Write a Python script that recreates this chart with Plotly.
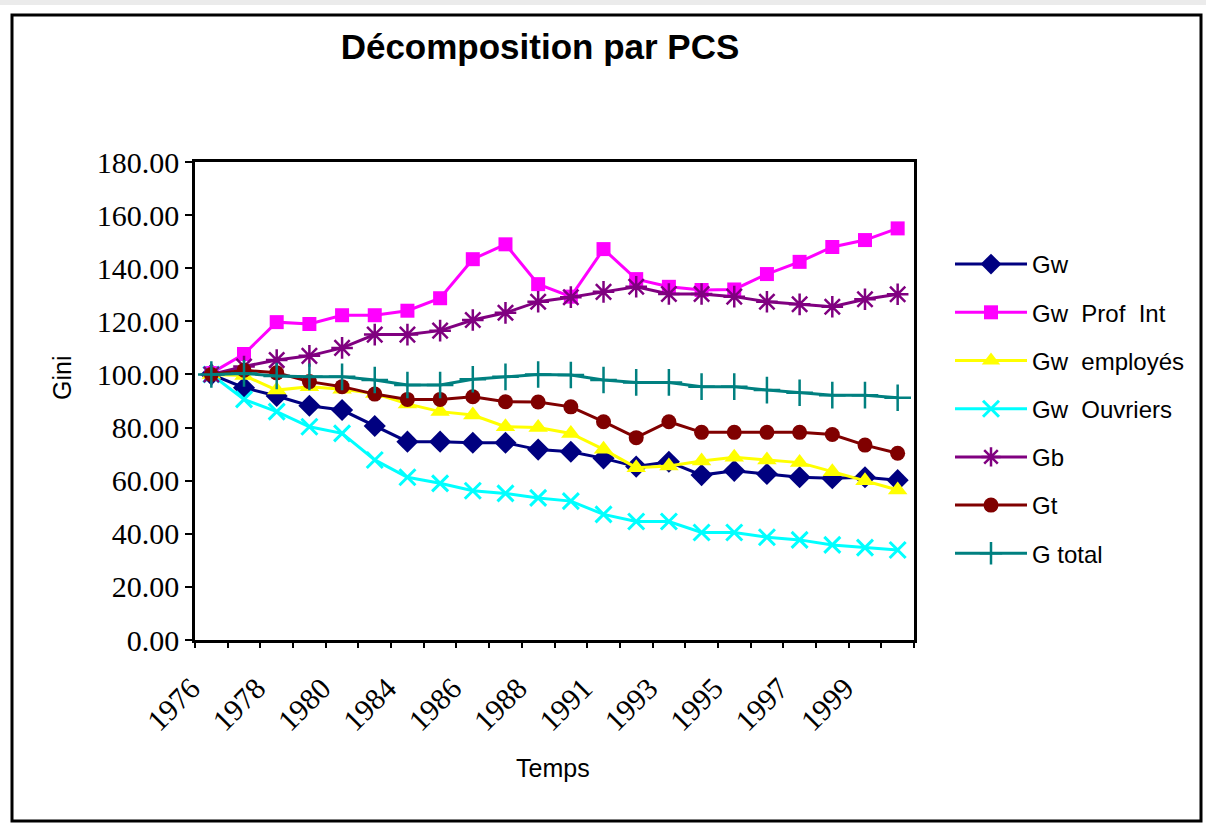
import plotly.graph_objects as go

years = ["1976", "1977", "1978", "1979", "1980", "1982", "1984", "1985", "1986", "1987", "1988",
         "1990", "1991", "1992", "1993", "1994", "1995", "1996", "1997", "1998", "1999", "2000"]
label_years = years[::2]

gw = [100, 95.0, 91.9, 88.2, 86.6, 80.6, 74.7, 74.7, 74.3, 74.3, 71.7, 70.9, 68.4, 65.3, 67.1,
      62.1, 63.7, 62.5, 61.3, 60.9, 61.3, 60.2]
gw_prof = [100.5, 107.7, 119.7, 119.0, 122.3, 122.3, 124.0, 128.7, 143.4, 149.0, 134.0, 129.3,
           147.2, 135.9, 133.0, 131.8, 132.0, 137.8, 142.4, 148.0, 150.6, 155.0]
gw_emp = [100, 99.6, 94.1, 95.4, 94.4, 92.8, 88.9, 86.0, 84.7, 80.3, 80.0, 77.8, 71.8, 64.9,
          65.5, 67.4, 68.8, 67.8, 66.8, 63.4, 60.0, 56.5]
gw_ouv = [100, 90.6, 86.0, 80.3, 77.8, 67.8, 61.3, 59.0, 56.2, 55.2, 53.5, 52.3, 47.3, 44.6,
          44.6, 40.5, 40.5, 38.7, 37.7, 35.8, 34.8, 33.9]
gb = [100, 103.0, 105.4, 107.0, 110.0, 115.0, 115.0, 116.5, 120.5, 123.2, 127.4, 129.1, 131.1,
      133.0, 130.3, 130.3, 129.3, 127.4, 126.4, 125.5, 128.3, 130.2]
gt = [100, 101.6, 100.6, 97.3, 95.4, 92.6, 90.6, 90.6, 91.6, 89.7, 89.6, 87.8, 82.2, 76.2,
      82.2, 78.2, 78.2, 78.2, 78.2, 77.4, 73.4, 70.3]
g_total = [100, 100.4, 99.4, 99.1, 99.1, 97.9, 96.0, 96.0, 98.2, 99.1, 100.0, 99.8, 97.9, 97.0,
           97.0, 95.4, 95.4, 94.1, 93.1, 92.2, 92.2, 91.2]

series = [
    ("Gw", gw, "#000080", dict(symbol="diamond", size=17)),
    ("Gw  Prof  Int", gw_prof, "#FF00FF", dict(symbol="square", size=14)),
    ("Gw  employés", gw_emp, "#FFFF00", dict(symbol="triangle-up", size=17)),
    ("Gw  Ouvriers", gw_ouv, "#00FFFF", dict(symbol="x-thin-open", size=16, line=dict(width=3, color="#00FFFF"))),
    ("Gb", gb, "#800080", dict(symbol="asterisk-open", size=18, line=dict(width=2.5, color="#800080"))),
    ("Gt", gt, "#800000", dict(symbol="circle", size=15)),
    ("G total", g_total, "#008080", dict(symbol="cross-thin-open", size=19, line=dict(width=2.5, color="#008080"))),
]

fig = go.Figure()
for i, (name, vals, col, mk) in enumerate(series):
    mk = dict(mk)
    mk["color"] = col
    fig.add_trace(go.Scatter(
        x=years, y=vals, name=name, mode="lines+markers",
        line=dict(color=col, width=3), marker=mk,
        legendgroup=name,
        xaxis="x2" if i == len(series) - 1 else "x",
    ))

W, H = 1206, 826
L, R, T, B = 195, 914, 162, 640
pw, ph = R - L, B - T
xrange = [-0.5, len(years) - 0.5]


def px(x):
    return (x - L) / pw


def py(y):
    return (B - y) / ph


fig.update_layout(
    width=W, height=H,
    margin=dict(l=L, r=W - R, t=T, b=H - B),
    paper_bgcolor="white", plot_bgcolor="white",
    showlegend=True,
    title=dict(text="<b>Décomposition par PCS</b>", x=540 / W, xanchor="center",
               y=1 - 47 / H, yanchor="middle",
               font=dict(family="Liberation Sans, Arial", size=35, color="black")),
    legend=dict(x=px(950), xanchor="left", y=py(242), yanchor="top",
                font=dict(family="Liberation Sans, Arial", size=24, color="black"),
                tracegroupgap=14, bgcolor="rgba(0,0,0,0)", itemwidth=72),
    xaxis=dict(type="category", categoryorder="array", categoryarray=years, range=xrange,
               tickmode="array", tickvals=label_years, ticktext=label_years,
               tickangle=-45, ticks="", showline=True, mirror=True,
               ticklabelshift=-20, ticklabelstandoff=16,
               linecolor="black", linewidth=2.5, showgrid=False, zeroline=False,
               tickfont=dict(family="Liberation Serif, Times New Roman", size=30, color="black")),
    xaxis2=dict(type="category", categoryorder="array", categoryarray=years,
                overlaying="x", matches="x", anchor="y", tickson="boundaries",
                ticks="outside", ticklen=7, tickwidth=1.5, tickcolor="black",
                showticklabels=False, showline=False, showgrid=False, zeroline=False),
    yaxis=dict(range=[0, 180], dtick=20, tickformat=".2f", ticks="outside", ticklen=7,
               tickwidth=1.5, tickcolor="black", showline=True, mirror=True,
               linecolor="black", linewidth=2.5, showgrid=False, zeroline=False,
               tickfont=dict(family="Liberation Serif, Times New Roman", size=30, color="black")),
    annotations=[
        dict(text="Temps", xref="paper", yref="paper", x=px(553), y=py(768),
             xanchor="center", yanchor="middle", showarrow=False,
             font=dict(family="Liberation Sans, Arial", size=25, color="black")),
        dict(text="Gini", xref="paper", yref="paper", x=px(62), y=py(378),
             xanchor="center", yanchor="middle", showarrow=False, textangle=-90,
             font=dict(family="Liberation Sans, Arial", size=25, color="black")),
    ],
    shapes=[
        dict(type="rect", xref="paper", yref="paper", x0=px(0), x1=px(W), y0=py(5), y1=py(0),
             fillcolor="#ebebeb", line=dict(width=0), layer="below"),
        dict(type="rect", xref="paper", yref="paper", x0=px(12), x1=px(1201), y0=py(821), y1=py(15),
             line=dict(color="black", width=3), fillcolor="rgba(0,0,0,0)", layer="above"),
    ],
)

fig.write_html("out.html", config={"displayModeBar": False},
               post_script="document.body.style.margin='0';document.body.style.overflow='hidden';")
